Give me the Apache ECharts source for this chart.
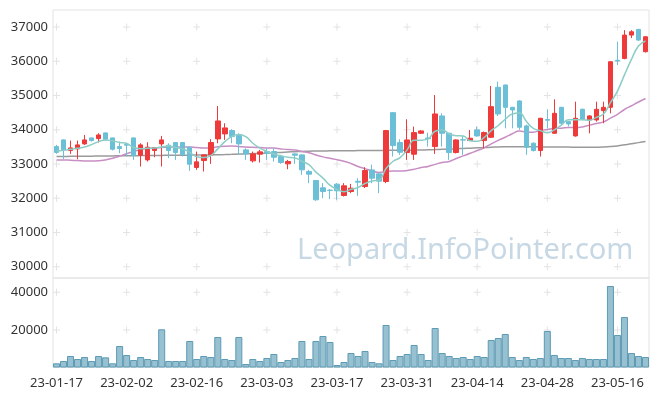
<!DOCTYPE html>
<html><head><meta charset="utf-8">
<script src="https://cdn.jsdelivr.net/npm/echarts@6/dist/echarts.min.js"></script>
<style>html,body{margin:0;padding:0;background:#fff}#c{width:657px;height:396px}</style>
</head><body><div id="c"></div>
<script>
const dates = ["23-01-17","23-01-18","23-01-19","23-01-20","23-01-25","23-01-26","23-01-27","23-01-30","23-01-31","23-02-01",
"23-02-02","23-02-03","23-02-06","23-02-07","23-02-08","23-02-09","23-02-10","23-02-13","23-02-14","23-02-15",
"23-02-16","23-02-17","23-02-20","23-02-21","23-02-22","23-02-23","23-02-24","23-02-27","23-02-28","23-03-02",
"23-03-03","23-03-06","23-03-07","23-03-08","23-03-09","23-03-10","23-03-13","23-03-14","23-03-15","23-03-16",
"23-03-17","23-03-20","23-03-21","23-03-22","23-03-23","23-03-24","23-03-27","23-03-28","23-03-29","23-03-30",
"23-03-31","23-04-03","23-04-04","23-04-05","23-04-06","23-04-07","23-04-10","23-04-11","23-04-12","23-04-13",
"23-04-14","23-04-17","23-04-18","23-04-19","23-04-20","23-04-21","23-04-24","23-04-25","23-04-26","23-04-27",
"23-04-28","23-05-02","23-05-03","23-05-04","23-05-08","23-05-09","23-05-10","23-05-11","23-05-12","23-05-15",
"23-05-16","23-05-17","23-05-18","23-05-19","23-05-22"];
const opens = [33510,33705,33394,33442,33588,33763,33743,33909,33763,33510,
33569,33763,33258,33121,33394,33588,33549,33627,33627,33491,
32898,33102,33267,33734,33880,33977,33831,33413,33092,33287,
33364,33364,33219,33005,33296,33267,32781,32519,32305,32237,
32412,32081,32197,32495,32342,32828,32712,32489,34501,33627,
33335,33286,33899,33760,33510,34404,33899,33335,33710,33685,
33996,33685,33782,35241,35309,34657,34842,34113,33608,33394,
34300,33899,34657,34239,33821,34599,34288,34288,34560,34657,
36030,36086,36767,36932,36281];
const closes = [33340,33413,33471,33559,33705,33685,33850,33724,33432,33452,
33550,33248,33559,33491,33481,33705,33394,33335,33277,32995,
33063,33267,33627,34259,34055,33802,33588,33296,33296,33355,
33316,33199,33044,33073,33257,32830,32703,31955,32198,32225,
32217,32363,32294,32470,32810,32585,32500,33977,33539,33345,
33704,33918,33967,33740,34463,33899,33335,33704,33700,33753,
33821,33918,34676,34463,34657,34580,34074,33491,33394,34336,
34280,34482,34191,34171,34336,34307,34405,34599,34657,35989,
36010,36767,36864,36621,36718];
const lows = [33300,33141,33296,33141,33559,33656,33627,33685,33394,33316,
33219,33121,32927,33073,33199,32927,33170,33121,33219,32801,
32830,32781,33005,33607,33705,33607,33267,33121,33044,33044,
33121,33073,33005,32849,33005,32684,32441,31925,32004,31975,
31955,32052,32148,32070,32300,32440,32148,32441,33218,33267,
33121,33121,33880,33510,33296,33510,33121,33310,33267,33670,
33800,33461,33760,34400,34045,34045,34000,33268,33365,33219,
34045,33880,34150,34100,33800,34280,33899,34240,34191,34482,
35892,36060,36680,36600,36260];
const highs = [33560,33720,33685,33685,33850,33770,33899,33920,33770,33656,
33627,33770,33607,33637,33490,33821,33607,33640,33640,33500,
33364,33280,33724,34696,34191,34016,33899,33462,33364,33413,
33462,33462,33267,33121,33316,33280,32830,32530,32441,32266,
32441,32441,32420,32585,32906,32984,32750,33997,34510,33724,
34307,34093,33990,33918,35017,34482,33910,33720,33821,33996,
34093,33950,35279,35406,35320,34670,34860,34150,33630,34350,
34599,34891,34670,34260,34822,34620,34420,34822,34822,36000,
36572,36912,36912,36950,36730];
const volumes = [2234,3458,6118,4522,5586,3458,6118,5408,2234,11438,
6650,3990,5586,4522,3990,20322,3458,3458,3458,14098,
4522,6118,5586,16226,4522,3990,16226,1862,4522,3458,
5054,7182,2926,3990,5054,14098,4522,14098,16758,13566,
1330,2926,7714,6118,8778,2926,2234,22610,3990,6118,
7182,11970,7182,3990,21014,7714,6118,5054,5586,4522,
6118,5586,14630,15694,17822,5586,3990,5586,4522,5054,
19418,6650,5054,5054,3990,5054,4522,4522,4522,43358,
17290,26866,7714,6118,5586];
const ma5 = [33380,33400,33430,33460,33498,33567,33654,33705,33679,33629,
33602,33481,33448,33460,33466,33497,33526,33481,33438,33341,
33213,33187,33246,33442,33654,33802,33866,33800,33607,33467,
33370,33292,33242,33197,33178,33081,32981,32764,32589,32382,
32260,32192,32259,32314,32431,32504,32532,32868,33082,33189,
33413,33697,33695,33735,33958,33997,33881,33828,33820,33678,
33663,33779,33974,34126,34307,34459,34490,34253,34039,33975,
33915,33997,34137,34292,34292,34297,34282,34364,34461,34791,
35132,35604,36057,36450,36596];
const ma20 = [33120,33120,33110,33100,33090,33090,33095,33120,33170,33230,
33300,33370,33420,33450,33470,33485,33495,33500,33500,33495,
33480,33470,33475,33505,33522,33528,33515,33494,33487,33482,
33470,33468,33442,33421,33410,33366,33332,33263,33209,33170,
33128,33083,33016,32927,32865,32804,32749,32783,32796,32795,
32814,32850,32897,32930,32990,33044,33075,33163,33238,33314,
33394,33472,33591,33691,33783,33883,33962,33937,33930,33980,
34008,34037,34048,34069,34063,34083,34137,34182,34230,34341,
34451,34593,34703,34811,34914];
const ma60 = [33220,33222,33224,33226,33228,33230,33232,33235,33238,33240,
33242,33244,33246,33248,33250,33252,33254,33256,33258,33260,
33262,33265,33268,33272,33276,33282,33290,33298,33306,33314,
33322,33330,33340,33350,33360,33368,33375,33380,33383,33385,
33387,33389,33390,33392,33393,33394,33395,33398,33400,33402,
33404,33406,33410,33415,33422,33430,33438,33446,33455,33464,
33472,33480,33490,33500,33505,33508,33508,33506,33504,33502,
33500,33498,33496,33494,33492,33490,33490,33492,33498,33510,
33530,33560,33590,33625,33655];
const priceTicks = [30000,31000,32000,33000,34000,35000,36000,37000];
const volumeTicks = [20000,40000];
const labelIdx = [0,10,20,30,40,50,60,70,80];

const candle = dates.map((d,i)=>[opens[i],closes[i],lows[i],highs[i]]);
const plusPrice = [], plusVol = [];
labelIdx.forEach(ci=>{priceTicks.forEach(v=>plusPrice.push([ci,v])); volumeTicks.forEach(v=>plusVol.push([ci,v]));});
const PLUS = 'path://M3,0h1v3h3v1h-3v3h-1v-3h-3v-1h3z';
const FONT = '"Noto Sans", sans-serif';
const plain = v => String(v);
const chart = echarts.init(document.getElementById('c'));
chart.setOption({
  animation:false,
  backgroundColor:'#fff',
  grid:[
    {left:53,right:8,top:10,height:268,show:true,borderColor:'#e3e3e3',borderWidth:1,backgroundColor:'transparent'},
    {left:53,right:8,top:278,height:89.5,show:true,borderColor:'#e3e3e3',borderWidth:1,backgroundColor:'transparent'}
  ],
  xAxis:[
    {type:'category',data:dates,gridIndex:0,boundaryGap:true,axisLine:{show:false},axisTick:{show:false},axisLabel:{show:false},splitLine:{show:false}},
    {type:'category',data:dates,gridIndex:1,boundaryGap:true,axisLine:{show:false},axisTick:{show:false},
     axisLabel:{interval:9,color:'#333',fontSize:13,fontFamily:FONT,margin:9},splitLine:{show:false}}
  ],
  yAxis:[
    {type:'value',gridIndex:0,min:29670,max:37500,splitNumber:8,axisLine:{show:false},axisTick:{show:false},splitLine:{show:false},
     axisLabel:{formatter:plain,showMinLabel:false,showMaxLabel:false,color:'#333',fontSize:13,fontFamily:FONT,margin:5}},
    {type:'value',gridIndex:1,min:0,max:47600,interval:20000,axisLine:{show:false},axisTick:{show:false},splitLine:{show:false},
     axisLabel:{formatter:plain,showMinLabel:false,showMaxLabel:false,color:'#333',fontSize:13,fontFamily:FONT,margin:5}}
  ],
  graphic:[{type:'text',left:297,top:236,z:0,silent:true,
    style:{text:'Leopard.InfoPointer.com',font:'29px "Noto Sans"',fill:'#c7d8e5'}}],
  series:[
    {type:'scatter',xAxisIndex:0,yAxisIndex:0,data:plusPrice,symbol:PLUS,symbolSize:7,silent:true,z:1,itemStyle:{color:'#dcdcdc'}},
    {type:'scatter',xAxisIndex:1,yAxisIndex:1,data:plusVol,symbol:PLUS,symbolSize:7,silent:true,z:1,itemStyle:{color:'#dcdcdc'}},
    {type:'line',data:ma60,xAxisIndex:0,yAxisIndex:0,symbol:'none',smooth:true,z:3,lineStyle:{color:'#9a9a9a',width:1.5}},
    {type:'line',data:ma20,xAxisIndex:0,yAxisIndex:0,symbol:'none',smooth:true,z:3,lineStyle:{color:'#c88ec4',width:1.5}},
    {type:'candlestick',data:candle,xAxisIndex:0,yAxisIndex:0,barWidth:5,z:4,
     itemStyle:{color:'#ee3a3a',color0:'#6bbfd7',borderColor:'#ee3a3a',borderColor0:'#6bbfd7',borderWidth:1}},
    {type:'line',data:ma5,xAxisIndex:0,yAxisIndex:0,symbol:'none',smooth:true,z:5,lineStyle:{color:'#8ccdc6',width:1.5}},
    {type:'bar',data:volumes,xAxisIndex:1,yAxisIndex:1,barWidth:'100%',z:3,
     itemStyle:{color:'#97c1d1',borderColor:'#5d9ab4',borderWidth:1}}
  ]
});
</script></body></html>
